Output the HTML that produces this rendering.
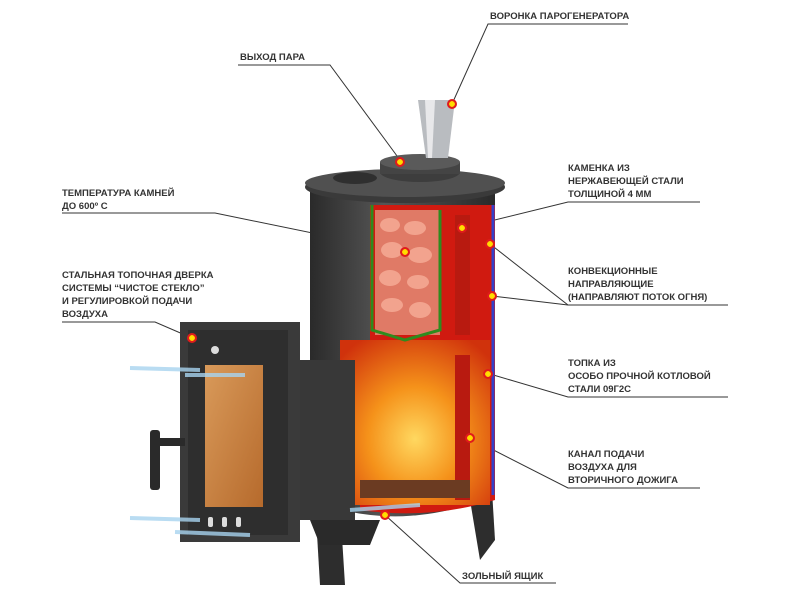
<!DOCTYPE html>
<html><head><meta charset="utf-8"><style>
html,body{margin:0;padding:0;background:#fff;}
svg{display:block;}
text{font-family:"Liberation Sans",sans-serif;font-size:9.5px;font-weight:bold;fill:#333;}
</style></head><body>
<svg width="800" height="600" viewBox="0 0 800 600" xmlns="http://www.w3.org/2000/svg">
<defs>
<linearGradient id="body" x1="0" x2="1"><stop offset="0" stop-color="#2a2a2a"/><stop offset="0.4" stop-color="#555"/><stop offset="1" stop-color="#2a2a2a"/></linearGradient>
<radialGradient id="fire" cx="0.5" cy="0.6" r="0.7"><stop offset="0" stop-color="#ffd860"/><stop offset="0.45" stop-color="#f5921a"/><stop offset="1" stop-color="#d0320c"/></radialGradient>
<linearGradient id="glass" x1="0" x2="1" y1="0" y2="1"><stop offset="0" stop-color="#d99a5a"/><stop offset="1" stop-color="#b66a2c"/></linearGradient>
<radialGradient id="dot"><stop offset="0" stop-color="#ffe600"/><stop offset="0.55" stop-color="#ffd200"/><stop offset="0.6" stop-color="#e01b1b"/><stop offset="1" stop-color="#e01b1b"/></radialGradient>
</defs>
<g stroke="#333" stroke-width="1" fill="none">
<polyline points="628,24 488,24 452,104"/>
<polyline points="238,65 330,65 400,160"/>
<polyline points="62,213 215,213 405,252"/>
<polyline points="62,322 155,322 192,338"/>
<polyline points="700,202 568,202 462,228"/>
<polyline points="728,305 568,305 490,244"/>
<polyline points="568,305 492,296"/>
<polyline points="728,397 568,397 490,374"/>
<polyline points="700,488 568,488 470,438"/>
<polyline points="556,583 460,583 385,515"/>
</g>
<path d="M315,500 L320,585 L345,585 L340,505 Z" fill="#2d2d2d"/>
<path d="M470,500 L480,560 L495,540 L492,490 Z" fill="#2d2d2d"/>
<path d="M310,190 L310,500 Q400,535 495,495 L495,190 Z" fill="url(#body)"/>
<ellipse cx="405" cy="187" rx="100" ry="16" fill="#3a3a3a"/>
<ellipse cx="405" cy="183" rx="100" ry="14" fill="#505050"/>
<ellipse cx="420" cy="172" rx="40" ry="10" fill="#3d3d3d"/>
<rect x="380" y="162" width="80" height="12" fill="#444"/>
<ellipse cx="420" cy="162" rx="40" ry="8" fill="#5a5a5a"/>
<ellipse cx="355" cy="178" rx="22" ry="6" fill="#2f2f2f"/>
<path d="M418,100 L455,100 L448,158 L426,158 Z" fill="#b9bcc0"/>
<path d="M425,100 L435,100 L432,158 L428,158 Z" fill="#e8e8ea"/>
<path d="M370,205 L495,205 L495,500 Q430,520 360,510 L360,355 L370,355 Z" fill="#d01a10"/>
<rect x="340" y="340" width="150" height="165" fill="url(#fire)"/>
<rect x="375" y="210" width="65" height="125" fill="#e07a66"/>
<g fill="#f2a38e">
<ellipse cx="390" cy="225" rx="10" ry="7"/><ellipse cx="415" cy="228" rx="11" ry="7"/><ellipse cx="392" cy="250" rx="11" ry="8"/><ellipse cx="420" cy="255" rx="12" ry="8"/><ellipse cx="390" cy="278" rx="11" ry="8"/><ellipse cx="418" cy="282" rx="11" ry="7"/><ellipse cx="392" cy="305" rx="11" ry="7"/><ellipse cx="420" cy="310" rx="11" ry="8"/></g>
<polyline points="372,205 372,330 405,340 440,330 440,210" stroke="#2e8b1e" stroke-width="3" fill="none"/>
<rect x="455" y="215" width="15" height="120" fill="#b81a10"/>
<rect x="455" y="355" width="15" height="145" fill="#b81a10"/>
<line x1="493" y1="205" x2="493" y2="495" stroke="#3440c8" stroke-width="3"/>
<rect x="360" y="480" width="110" height="18" fill="#6b3b22"/>
<path d="M300,360 L355,360 L355,520 L300,520 Z" fill="#383838"/>
<path d="M310,520 L380,520 L370,545 L320,545 Z" fill="#2a2a2a"/>
<rect x="180" y="322" width="120" height="220" fill="#3a3a3a"/>
<rect x="188" y="330" width="100" height="205" fill="#2e2e2e"/>
<rect x="205" y="365" width="58" height="142" fill="url(#glass)"/>
<rect x="150" y="430" width="10" height="60" rx="3" fill="#2a2a2a"/>
<rect x="150" y="438" width="35" height="8" fill="#2a2a2a"/>
<g fill="#ddd"><rect x="208" y="517" width="5" height="10" rx="2"/><rect x="222" y="517" width="5" height="10" rx="2"/><rect x="236" y="517" width="5" height="10" rx="2"/><circle cx="215" cy="350" r="4"/></g>
<g stroke="#a8d4f0" stroke-width="4" fill="none" opacity="0.8">
<path d="M130,368 L200,370"/><path d="M185,375 L245,375"/><path d="M130,518 L200,520"/><path d="M175,532 L250,535"/><path d="M350,510 L420,505"/>
</g>
<g fill="url(#dot)">
<circle cx="452" cy="104" r="5"/><circle cx="400" cy="162" r="5"/><circle cx="405" cy="252" r="5"/><circle cx="192" cy="338" r="5"/><circle cx="462" cy="228" r="5"/><circle cx="490" cy="244" r="5"/><circle cx="492" cy="296" r="5"/><circle cx="488" cy="374" r="5"/><circle cx="470" cy="438" r="5"/><circle cx="385" cy="515" r="5"/>
</g>
<text x="490" y="19">ВОРОНКА ПАРОГЕНЕРАТОРА</text>
<text x="240" y="60">ВЫХОД ПАРА</text>
<text x="62" y="196">ТЕМПЕРАТУРА КАМНЕЙ</text>
<text x="62" y="209">ДО 600º С</text>
<text x="62" y="278">СТАЛЬНАЯ ТОПОЧНАЯ ДВЕРКА</text>
<text x="62" y="291">СИСТЕМЫ “ЧИСТОЕ СТЕКЛО”</text>
<text x="62" y="304">И РЕГУЛИРОВКОЙ ПОДАЧИ</text>
<text x="62" y="317">ВОЗДУХА</text>
<text x="568" y="171">КАМЕНКА ИЗ</text>
<text x="568" y="184">НЕРЖАВЕЮЩЕЙ СТАЛИ</text>
<text x="568" y="197">ТОЛЩИНОЙ 4 ММ</text>
<text x="568" y="274">КОНВЕКЦИОННЫЕ</text>
<text x="568" y="287">НАПРАВЛЯЮЩИЕ</text>
<text x="568" y="300">(НАПРАВЛЯЮТ ПОТОК ОГНЯ)</text>
<text x="568" y="366">ТОПКА ИЗ</text>
<text x="568" y="379">ОСОБО ПРОЧНОЙ КОТЛОВОЙ</text>
<text x="568" y="392">СТАЛИ 09Г2С</text>
<text x="568" y="457">КАНАЛ ПОДАЧИ</text>
<text x="568" y="470">ВОЗДУХА ДЛЯ</text>
<text x="568" y="483">ВТОРИЧНОГО ДОЖИГА</text>
<text x="462" y="579">ЗОЛЬНЫЙ ЯЩИК</text>
</svg>
</body></html>
